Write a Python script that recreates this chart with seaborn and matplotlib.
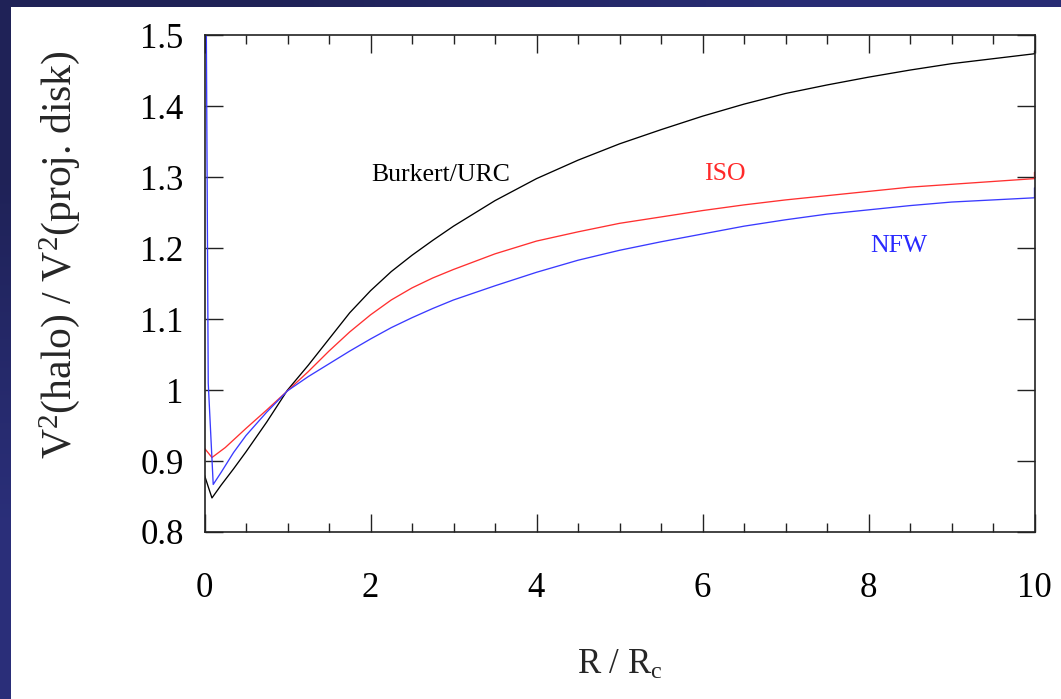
import numpy as np
import pandas as pd
import matplotlib
matplotlib.use("Agg")
import matplotlib.pyplot as plt
from matplotlib.colors import LinearSegmentedColormap
from matplotlib.patches import Rectangle
import seaborn as sns

# ---- data ----
burkert_x = [0.0, 0.05, 0.09, 0.2, 0.35, 0.5, 0.75, 1.0, 1.25, 1.5, 1.75, 2.0, 2.25, 2.5, 2.75, 3.0,
             3.5, 4.0, 4.5, 5.0, 5.5, 6.0, 6.5, 7.0, 7.5, 8.0, 8.5, 9.0, 9.5, 10.0, 10.0]
burkert_y = [0.880, 0.862, 0.848, 0.866, 0.889, 0.913, 0.955, 1.000, 1.035, 1.072, 1.109, 1.140, 1.167, 1.190, 1.211, 1.231,
             1.267, 1.298, 1.324, 1.347, 1.367, 1.386, 1.403, 1.418, 1.430, 1.441, 1.451, 1.460, 1.467, 1.474, 1.478]

iso_x = [0.0, 0.09, 0.25, 0.5, 0.75, 1.0, 1.25, 1.5, 1.75, 2.0, 2.25, 2.5, 2.75, 3.0,
         3.5, 4.0, 4.5, 5.0, 5.5, 6.0, 6.5, 7.0, 7.5, 8.0, 8.5, 9.0, 9.5, 10.0, 10.0]
iso_y = [0.918, 0.905, 0.919, 0.946, 0.972, 0.999, 1.026, 1.055, 1.082, 1.106, 1.127, 1.144, 1.158, 1.170,
         1.192, 1.210, 1.223, 1.235, 1.244, 1.253, 1.261, 1.268, 1.274, 1.280, 1.286, 1.290, 1.294, 1.298, 1.307]

nfw_x = [0.02, 0.045, 0.105, 0.2, 0.35, 0.5, 0.75, 1.0, 1.25, 1.5, 1.75, 2.0, 2.25, 2.5, 2.75, 3.0,
         3.5, 4.0, 4.5, 5.0, 5.5, 6.0, 6.5, 7.0, 7.5, 8.0, 8.5, 9.0, 9.5, 10.0, 10.0]
nfw_y = [1.55, 1.01, 0.867, 0.884, 0.912, 0.936, 0.969, 0.999, 1.019, 1.037, 1.055, 1.072, 1.088, 1.102, 1.115, 1.127,
         1.147, 1.166, 1.183, 1.197, 1.209, 1.220, 1.231, 1.240, 1.248, 1.254, 1.260, 1.265, 1.268, 1.271, 1.285]

series_names = ["Burkert/URC", "ISO", "NFW"]
series_colors = ["#000000", "#ff3030", "#3a3aff"]
label_colors = ["#000000", "#ff2a2a", "#2a2aff"]
label_pos = [(2.85, 1.303), (6.27, 1.305), (8.37, 1.203)]

x_ticks = [0, 2, 4, 6, 8, 10]
y_ticks = [0.8, 0.9, 1.0, 1.1, 1.2, 1.3, 1.4, 1.5]
y_ticklabels = ["0.8", "0.9", "1", "1.1", "1.2", "1.3", "1.4", "1.5"]

df = pd.concat([
    pd.DataFrame({"x": burkert_x, "y": burkert_y, "model": series_names[0]}),
    pd.DataFrame({"x": iso_x, "y": iso_y, "model": series_names[1]}),
    pd.DataFrame({"x": nfw_x, "y": nfw_y, "model": series_names[2]}),
], ignore_index=True)

# ---- style ----
sns.set_theme(style="ticks")
plt.rcParams["font.family"] = ["Liberation Serif", "DejaVu Serif"]
plt.rcParams["mathtext.fontset"] = "custom"
plt.rcParams["mathtext.rm"] = "Liberation Serif"
plt.rcParams["mathtext.it"] = "Liberation Serif:italic"

W, H = 1061, 699
fig = plt.figure(figsize=(W / 100, H / 100), dpi=100)

# background: dark blue gradient with white panel
bg = fig.add_axes([0, 0, 1, 1], zorder=-10)
cmap = LinearSegmentedColormap.from_list("bg", ["#1f2257", "#2f3488"])
grad = np.array([[0.0, 0.6], [0.7, 1.0]])
bg.imshow(grad, cmap=cmap, aspect="auto", interpolation="bilinear", extent=[0, 1, 0, 1], origin="upper")
bg.add_patch(Rectangle((11 / W, 0), 1 - 11 / W, 1 - 7 / H, facecolor="white", edgecolor="none",
                       transform=bg.transAxes))
bg.set_xlim(0, 1); bg.set_ylim(0, 1)
bg.axis("off")

ax = fig.add_axes([204.5 / W, (H - 532) / H, 830 / W, (532 - 35.3) / H])
ax.set_facecolor("none")

sns.lineplot(data=df, x="x", y="y", hue="model", hue_order=series_names,
             palette=dict(zip(series_names, series_colors)),
             estimator=None, sort=False, linewidth=0.95, legend=False, ax=ax)

for name, col, (tx, ty) in zip(series_names, label_colors, label_pos):
    ax.text(tx, ty, name, color=col, fontsize=18.5, ha="center", va="center")

ax.set_xlim(0, 10)
ax.set_ylim(0.8, 1.5)
ax.set_xticks(x_ticks)
ax.set_xticks(np.arange(0, 10.01, 0.5), minor=True)
ax.set_yticks(y_ticks)
ax.set_yticklabels(y_ticklabels)
ax.set_xticklabels([str(t) for t in x_ticks])

for s in ax.spines.values():
    s.set_visible(True)
    s.set_linewidth(1.2)
    s.set_color("#222222")

ax.tick_params(axis="both", which="both", direction="in", top=True, right=True,
               colors="#222222", labelcolor="black", labelsize=25)
ax.tick_params(axis="x", which="major", length=13, width=1.0, pad=29)
ax.tick_params(axis="x", which="minor", length=6.5, width=1.0)
ax.tick_params(axis="y", which="major", length=13, width=1.0, pad=15)

ax.set_xlabel(r"R / R$_{\mathrm{c}}$", fontsize=25)
ax.set_ylabel(r"V$^{2}$(halo) / V$^{2}$(proj. disk)", fontsize=30)
ax.xaxis.set_label_coords(0.5, -0.235)
ax.yaxis.set_label_coords(-0.148, 0.558)

fig.savefig("out.png", dpi=100)
